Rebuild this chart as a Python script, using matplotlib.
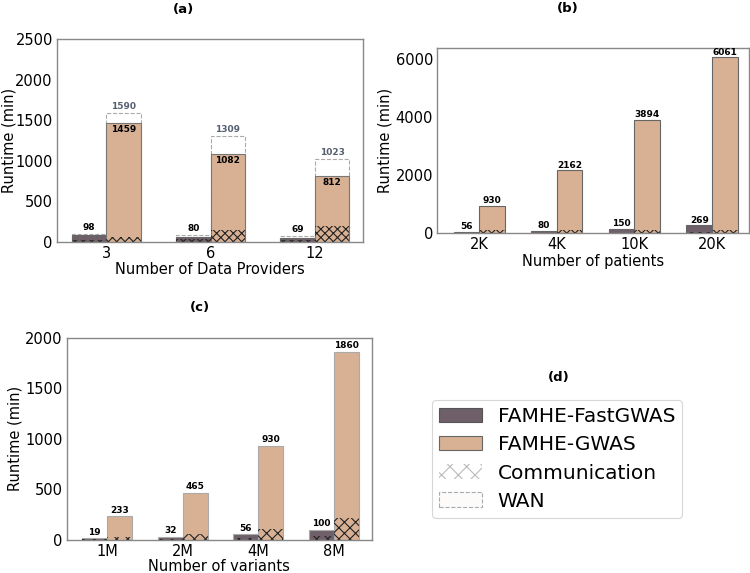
import matplotlib
matplotlib.use("Agg")
import matplotlib.pyplot as plt
from matplotlib.patches import Patch
import numpy as np

# ---------------- data ----------------
prov_labels = ["3", "6", "12"]
prov_fast_lan = [78, 58, 42]
prov_fast_wan = [98, 80, 69]
prov_fast_comm = [25, 30, 28]
prov_gwas_lan = [1459, 1082, 812]
prov_gwas_wan = [1590, 1309, 1023]
prov_gwas_comm = [65, 148, 189]

pat_labels = ["2K", "4K", "10K", "20K"]
pat_fast = [56, 80, 150, 269]
pat_fast_comm = [15, 18, 22, 25]
pat_gwas = [930, 2162, 3894, 6061]
pat_gwas_comm = [110, 110, 110, 110]

var_labels = ["1M", "2M", "4M", "8M"]
var_fast = [19, 32, 56, 100]
var_fast_comm = [6, 10, 22, 42]
var_gwas = [233, 465, 930, 1860]
var_gwas_comm = [30, 55, 110, 220]

C_FAST = "#6e5f68"
C_GWAS = "#d8b194"
W = 0.33
TICK_FS = 10.5
LBL_FS = 6.5

plt.rcParams["hatch.linewidth"] = 0.8
plt.rcParams["font.family"] = "DejaVu Sans"

fig = plt.figure(figsize=(7.5, 5.73), dpi=100)


def style_axes(ax):
    for s in ax.spines.values():
        s.set_color("#888888")
        s.set_linewidth(1.0)
    ax.tick_params(axis="both", length=0, labelsize=TICK_FS, pad=3)


def hatch_bars(ax, x, vals, width, hatch):
    bars = ax.bar(x, vals, width=width, align="edge", color="none", edgecolor="#222222",
                  linewidth=0)
    for b in bars:
        b.set_hatch(hatch)
    return bars


def draw_panel(ax, labels, fast, fast_comm, gwas, gwas_comm, edge, hatch):
    x = np.arange(len(labels))
    ax.bar(x, fast, width=-W, align="edge", color=C_FAST, edgecolor=edge, linewidth=0.8)
    ax.bar(x, gwas, width=W, align="edge", color=C_GWAS, edgecolor=edge, linewidth=0.8)
    hatch_bars(ax, x, fast_comm, -W, hatch)
    hatch_bars(ax, x, gwas_comm, W, hatch)
    ax.set_xticks(x)
    ax.set_xticklabels(labels)
    return x


# ---------- (a) ----------
axa = fig.add_axes([0.076, 0.578, 0.408, 0.354])
x = np.arange(len(prov_labels))
axa.bar(x, prov_fast_wan, width=-W, align="edge", color="white", edgecolor="#aaaaaa",
        linestyle="--", linewidth=0.8)
axa.bar(x, prov_gwas_wan, width=W, align="edge", color="white", edgecolor="#aaaaaa",
        linestyle="--", linewidth=0.8)
axa.bar(x, prov_fast_lan, width=-W, align="edge", color=C_FAST, edgecolor="#666666", linewidth=0.8)
axa.bar(x, prov_gwas_lan, width=W, align="edge", color=C_GWAS, edgecolor="#777777", linewidth=0.8)
hatch_bars(axa, x, prov_fast_comm, -W, "xxxx")
hatch_bars(axa, x, prov_gwas_comm, W, "xxxx")
for i in range(len(x)):
    axa.text(x[i] - W / 2, prov_fast_wan[i] + 25, str(prov_fast_wan[i]), ha="center",
             va="bottom", fontsize=LBL_FS, fontweight="bold", color="black")
    axa.text(x[i] + W / 2, prov_gwas_wan[i] + 25, str(prov_gwas_wan[i]), ha="center",
             va="bottom", fontsize=LBL_FS, fontweight="bold", color="#556070")
    axa.text(x[i] + W / 2, prov_gwas_lan[i] - 25, str(prov_gwas_lan[i]), ha="center",
             va="top", fontsize=LBL_FS, fontweight="bold", color="black")
axa.set_xticks(x)
axa.set_xticklabels(prov_labels)
axa.set_xlim(-0.47, 2.46)
axa.set_ylim(0, 2500)
axa.set_yticks([0, 500, 1000, 1500, 2000, 2500])
axa.set_ylabel("Runtime (min)", fontsize=TICK_FS)
axa.yaxis.set_label_coords(-0.132, 0.5)
axa.set_xlabel("Number of Data Providers", fontsize=TICK_FS, labelpad=1)
style_axes(axa)

# ---------- (b) ----------
axb = fig.add_axes([0.583, 0.593, 0.416, 0.323])
x = draw_panel(axb, pat_labels, pat_fast, pat_fast_comm, pat_gwas, pat_gwas_comm, "#666666", "xxxx")
for i in range(len(x)):
    axb.text(x[i] - W / 2, pat_fast[i] + 30, str(pat_fast[i]), ha="center", va="bottom",
             fontsize=LBL_FS, fontweight="bold")
    axb.text(x[i] + W / 2, pat_gwas[i] + 30, str(pat_gwas[i]), ha="center", va="bottom",
             fontsize=LBL_FS, fontweight="bold")
axb.set_xlim(-0.54, 3.48)
axb.set_ylim(0, 6380)
axb.set_yticks([0, 2000, 4000, 6000])
axb.set_ylabel("Runtime (min)", fontsize=TICK_FS, labelpad=2)
axb.set_xlabel("Number of patients", fontsize=TICK_FS, labelpad=1)
style_axes(axb)

# ---------- (c) ----------
axc = fig.add_axes([0.089, 0.0576, 0.407, 0.353])
x = draw_panel(axc, var_labels, var_fast, var_fast_comm, var_gwas, var_gwas_comm, "#aaaaaa", "xxx")
for i in range(len(x)):
    axc.text(x[i] - W / 2, var_fast[i] + 15, str(var_fast[i]), ha="center", va="bottom",
             fontsize=LBL_FS, fontweight="bold")
    axc.text(x[i] + W / 2, var_gwas[i] + 15, str(var_gwas[i]), ha="center", va="bottom",
             fontsize=LBL_FS, fontweight="bold")
axc.set_xlim(-0.53, 3.5)
axc.set_ylim(0, 2000)
axc.set_yticks([0, 500, 1000, 1500, 2000])
axc.set_ylabel("Runtime (min)", fontsize=TICK_FS, labelpad=2)
axc.set_xlabel("Number of variants", fontsize=TICK_FS, labelpad=0)
style_axes(axc)

# ---------- titles ----------
fig.text(0.244, 0.983, "(a)", ha="center", va="center", fontsize=9.5, fontweight="bold")
fig.text(0.757, 0.986, "(b)", ha="center", va="center", fontsize=9.5, fontweight="bold")
fig.text(0.267, 0.464, "(c)", ha="center", va="center", fontsize=9.5, fontweight="bold")
fig.text(0.745, 0.342, "(d)", ha="center", va="center", fontsize=9.5, fontweight="bold")

# ---------- legend (d) ----------
handles = [
    Patch(facecolor=C_FAST, edgecolor="#555555", linewidth=0.8, label="FAMHE-FastGWAS"),
    Patch(facecolor=C_GWAS, edgecolor="#666666", linewidth=0.8, label="FAMHE-GWAS"),
    Patch(facecolor="white", edgecolor="#bbbbbb", hatch="xx", linewidth=0, label="Communication"),
    Patch(facecolor="#fdfafa", edgecolor="#aaaaaa", linestyle="--", linewidth=0.8, label="WAN"),
]
leg = fig.legend(handles=handles, loc="center", bbox_to_anchor=(0.743, 0.199), fontsize=14.5,
                 frameon=True, fancybox=True, labelspacing=0.45, handlelength=2.1,
                 borderpad=0.35)
leg.get_frame().set_edgecolor("#cccccc")
leg.get_frame().set_linewidth(0.8)

fig.savefig("out.png", dpi=100)
